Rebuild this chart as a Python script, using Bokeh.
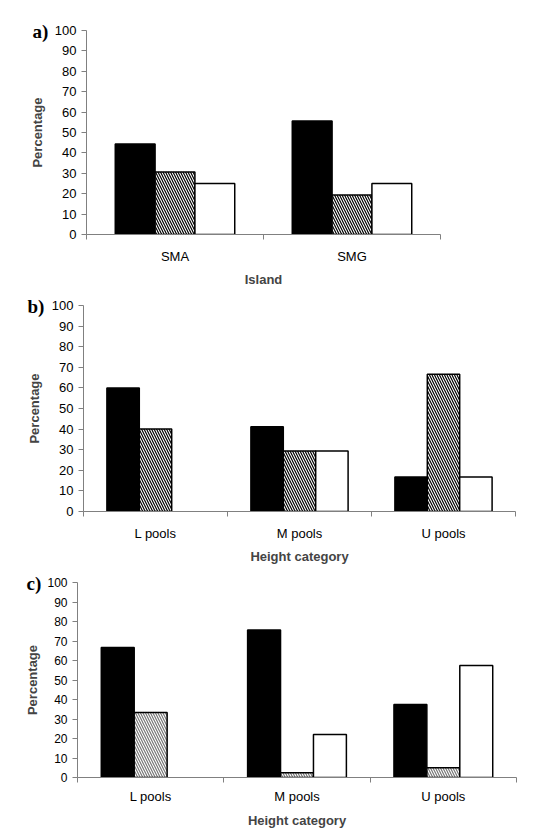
import numpy as np
from bokeh.plotting import figure
from bokeh.models import Range1d, FixedTicker
from bokeh.embed import file_html
from bokeh.resources import INLINE

# ---- data ----
a_cats = ["SMA", "SMG"]
a_dark = [44.4, 55.6]
a_hatch = [30.6, 19.4]
a_white = [25.0, 25.0]

b_cats = ["L pools", "M pools", "U pools"]
b_dark = [60.0, 41.2, 16.7]
b_hatch = [40.0, 29.4, 66.6]
b_white = [0.0, 29.4, 16.7]

c_cats = ["L pools", "M pools", "U pools"]
c_dark = [66.7, 75.6, 37.5]
c_hatch = [33.3, 2.4, 5.0]
c_white = [0.0, 22.0, 57.5]

y_ticks = [0, 10, 20, 30, 40, 50, 60, 70, 80, 90, 100]

FONT = "Liberation Sans"
AXIS_GRAY = "#808080"
BAR_W = 0.225
FIG_W = 530


def panel(cats, dark, hatch, white, xlabel, tag, height, top, bottom, left, right,
          hatch_color, lab_standoff, xlab_standoff, ylab_standoff, tag_dx, tick_font):
    n = len(cats)
    p = figure(width=FIG_W, height=height, output_backend="svg", toolbar_location=None,
               x_range=Range1d(0, n), y_range=Range1d(0, 100),
               min_border_top=top, min_border_bottom=bottom,
               min_border_left=left, min_border_right=right)
    p.outline_line_color = None
    p.xgrid.visible = False
    p.ygrid.visible = False

    centers = np.arange(n) + 0.5
    series = [
        (dark, dict(fill_color="black", hatch_pattern=None)),
        (hatch, dict(fill_color="white", hatch_pattern="\\", hatch_color=hatch_color,
                     hatch_scale=5, hatch_weight=1.2)),
        (white, dict(fill_color="white", hatch_pattern=None)),
    ]
    for k, (vals, style) in enumerate(series):
        xs = centers + (k - 1) * BAR_W
        keep = [i for i, v in enumerate(vals) if v > 0]
        p.vbar(x=[xs[i] for i in keep], top=[vals[i] for i in keep], bottom=0,
               width=BAR_W, line_color="black", line_width=1.5, **style)

    # x axis
    xa = p.xaxis[0]
    xa.ticker = FixedTicker(ticks=list(centers), minor_ticks=list(range(n + 1)))
    xa.major_label_overrides = {float(c): name for c, name in zip(centers, cats)}
    xa.major_tick_out = 0
    xa.major_tick_in = 0
    xa.major_tick_line_color = None
    xa.minor_tick_out = 5
    xa.minor_tick_in = 0
    xa.minor_tick_line_color = AXIS_GRAY
    xa.axis_line_color = AXIS_GRAY
    xa.major_label_standoff = lab_standoff
    xa.major_label_text_font = FONT
    xa.major_label_text_font_size = "13px"
    xa.major_label_text_color = "black"
    xa.axis_label = xlabel
    xa.axis_label_text_font = FONT
    xa.axis_label_text_font_style = "bold"
    xa.axis_label_text_font_size = "13px"
    xa.axis_label_standoff = xlab_standoff

    # y axis
    ya = p.yaxis[0]
    ya.ticker = FixedTicker(ticks=y_ticks)
    ya.major_tick_out = 5
    ya.major_tick_in = 0
    ya.minor_tick_out = 0
    ya.minor_tick_in = 0
    ya.major_tick_line_color = AXIS_GRAY
    ya.axis_line_color = AXIS_GRAY
    ya.major_label_standoff = 5
    ya.major_label_text_font = FONT
    ya.major_label_text_font_size = tick_font
    ya.major_label_text_color = "black"
    ya.axis_label = "Percentage"
    ya.axis_label_text_font = FONT
    ya.axis_label_text_font_style = "bold"
    ya.axis_label_text_font_size = "13px"
    ya.axis_label_standoff = ylab_standoff

    # panel tag, drawn as the (unclipped) title, pulled down beside the "100" tick
    p.title.text = tag
    p.title.align = "left"
    p.title.offset = tag_dx
    p.title.standoff = -22
    p.title.text_font = "Liberation Serif"
    p.title.text_font_style = "bold"
    p.title.text_font_size = "19px"
    p.title.text_color = "black"
    return p


# figure a: y 0..290, frame x 86..440, y 30..234
pa = panel(a_cats, a_dark, a_hatch, a_white, "Island", "a)", 290, 30, 56, 86, FIG_W - 440,
           "black", 9, 5, 7, -54, "13px")
# figure b: y 290..566, frame x 83..515, y 305..511
pb = panel(b_cats, b_dark, b_hatch, b_white, "Height category", "b)", 276, 15, 55, 83, FIG_W - 515,
           "black", 9, 5, 7, -56, "13px")
# figure c: y 566..830, frame x 77..516, y 582..778
pc = panel(c_cats, c_dark, c_hatch, c_white, "Height category", "c)", 264, 16, 52, 77, FIG_W - 516,
           "#777777", 6, 6, 4, -51, "12px")

open("out.html", "w").write(file_html([pa, pb, pc], INLINE))
